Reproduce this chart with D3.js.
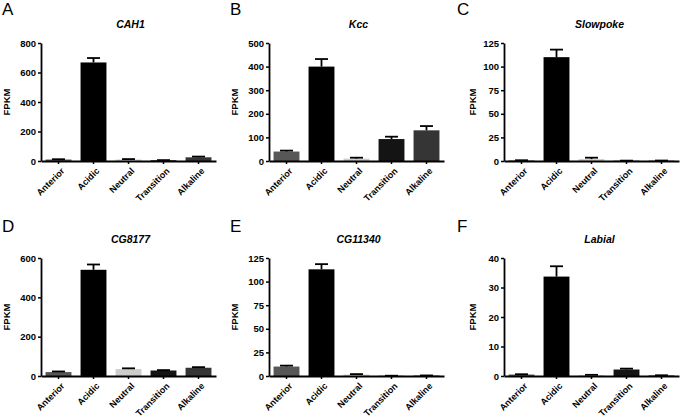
<!DOCTYPE html>
<html lang="en">
<head>
  <meta charset="UTF-8">
  <title>FPKM by midgut region</title>
  <script src="https://d3js.org/d3.v7.min.js"></script>
  <style>
    body { margin: 0; background: #fff; }
    text { font-family: "Liberation Sans", Arial, sans-serif; }
  </style>
</head>
<body>
  <script>
    // regions along the gut
    const categories = ["Anterior", "Acidic", "Neutral", "Transition", "Alkaline"];
    const barColors = ["#575757", "#000000", "#cccccc", "#141414", "#353535"];

    const panelLetters = ["A", "B", "C", "D", "E", "F"];
    const genes = ["CAH1", "Kcc", "Slowpoke", "CG8177", "CG11340", "Labial"];

    // mean FPKM and SEM
    const cah1Mean = [10, 668, 10, 5, 25];
    const cah1Err = [2, 30, 3, 1, 5];
    const kccMean = [40, 400, 10, 93, 130];
    const kccErr = [4, 32, 4, 10, 18];
    const slowpokeMean = [0.6, 110, 2, 0.3, 0.4];
    const slowpokeErr = [0.2, 8, 1.5, 0.1, 0.1];
    const cg8177Mean = [20, 540, 35, 28, 42];
    const cg8177Err = [3, 27, 4, 2, 3];
    const cg11340Mean = [10, 113, 1.5, 0.2, 0.5];
    const cg11340Err = [1, 5.5, 0.5, 0.1, 0.1];
    const labialMean = [0.5, 33.7, 0.3, 2.2, 0.2];
    const labialErr = [0.1, 3.5, 0.1, 0.3, 0.05];

    // y axis top and tick step per panel
    const yMax = [800, 500, 125, 600, 125, 40];
    const yStep = [200, 100, 25, 200, 25, 10];

    const means = [cah1Mean, kccMean, slowpokeMean, cg8177Mean, cg11340Mean, labialMean];
    const errs = [cah1Err, kccErr, slowpokeErr, cg8177Err, cg11340Err, labialErr];

    const width = 685, height = 418;
    const svg = d3.select("body").append("svg")
      .attr("width", width)
      .attr("height", height);

    const colOrigin = [0, 228, 455];
    const axisLeft = [41, 269, 504];
    const rowTop = [43, 258];
    const plotW = 175, plotH = 118;

    genes.forEach((gene, i) => {
      const col = i % 3, row = Math.floor(i / 3);
      const x0 = axisLeft[col], y0 = rowTop[row];

      const x = d3.scaleBand().domain(categories).range([x0, x0 + plotW]).paddingInner(0.26).paddingOuter(0.13);
      const y = d3.scaleLinear().domain([0, yMax[i]]).range([y0 + plotH, y0]);

      const g = svg.append("g");

      // panel letter
      g.append("text")
        .attr("x", colOrigin[col] + 2)
        .attr("y", row === 0 ? 15 : 232)
        .style("font-size", "17px")
        .text(panelLetters[i]);

      // gene name
      g.append("text")
        .attr("x", x0 + plotW / 2 + (col === 2 ? 8 : 2))
        .attr("y", y0 - 15)
        .attr("text-anchor", "middle")
        .style("font-size", "10.5px")
        .style("font-weight", "bold")
        .style("font-style", "italic")
        .text(gene);

      // bars
      const data = categories.map((c, k) => ({ c, v: means[i][k], e: errs[i][k], color: barColors[k] }));
      g.selectAll("rect")
        .data(data)
        .enter().append("rect")
        .attr("x", d => x(d.c))
        .attr("y", d => y(d.v))
        .attr("width", x.bandwidth())
        .attr("height", d => y(0) - y(d.v))
        .attr("fill", d => d.color);

      // error bars (upper only)
      const cap = x.bandwidth() * 0.5;
      const eb = g.selectAll(".err").data(data).enter().append("g")
        .attr("stroke", "#000").attr("stroke-width", 1.8);
      eb.append("line")
        .attr("x1", d => x(d.c) + x.bandwidth() / 2)
        .attr("x2", d => x(d.c) + x.bandwidth() / 2)
        .attr("y1", d => y(d.v))
        .attr("y2", d => y(d.v + d.e));
      eb.append("line")
        .attr("x1", d => x(d.c) + x.bandwidth() / 2 - cap / 2)
        .attr("x2", d => x(d.c) + x.bandwidth() / 2 + cap / 2)
        .attr("y1", d => y(d.v + d.e))
        .attr("y2", d => y(d.v + d.e));

      // y axis
      const yAxis = g.append("g")
        .attr("transform", `translate(${x0},0)`)
        .call(d3.axisLeft(y).tickValues(d3.range(0, yMax[i] + 0.001, yStep[i])).tickSize(3).tickPadding(2).tickSizeOuter(0));
      yAxis.select(".domain").attr("stroke-width", 1.8);
      yAxis.selectAll(".tick line").attr("stroke-width", 1.5);
      yAxis.selectAll("text")
        .style("font-size", "9.5px")
        .style("font-weight", "bold")
        .attr("fill", "#000");

      // x axis
      const xAxis = g.append("g")
        .attr("transform", `translate(0,${y0 + plotH})`)
        .call(d3.axisBottom(x).tickSize(3).tickSizeOuter(0).tickPadding(2));
      xAxis.select(".domain").attr("stroke-width", 1.8);
      xAxis.selectAll(".tick line").attr("stroke-width", 1.5);
      xAxis.selectAll("text")
        .style("font-size", "9px")
        .style("font-weight", "bold")
        .attr("fill", "#000")
        .attr("text-anchor", "end")
        .attr("dy", 0)
        .attr("transform", "translate(3,7) rotate(-45)");

      // y label
      g.append("text")
        .attr("transform", `translate(${x0 - (col === 2 ? 28 : 31)},${y0 + plotH / 2}) rotate(-90)`)
        .attr("text-anchor", "middle")
        .style("font-size", "9.5px")
        .style("font-weight", "bold")
        .text("FPKM");
    });
  </script>
</body>
</html>
